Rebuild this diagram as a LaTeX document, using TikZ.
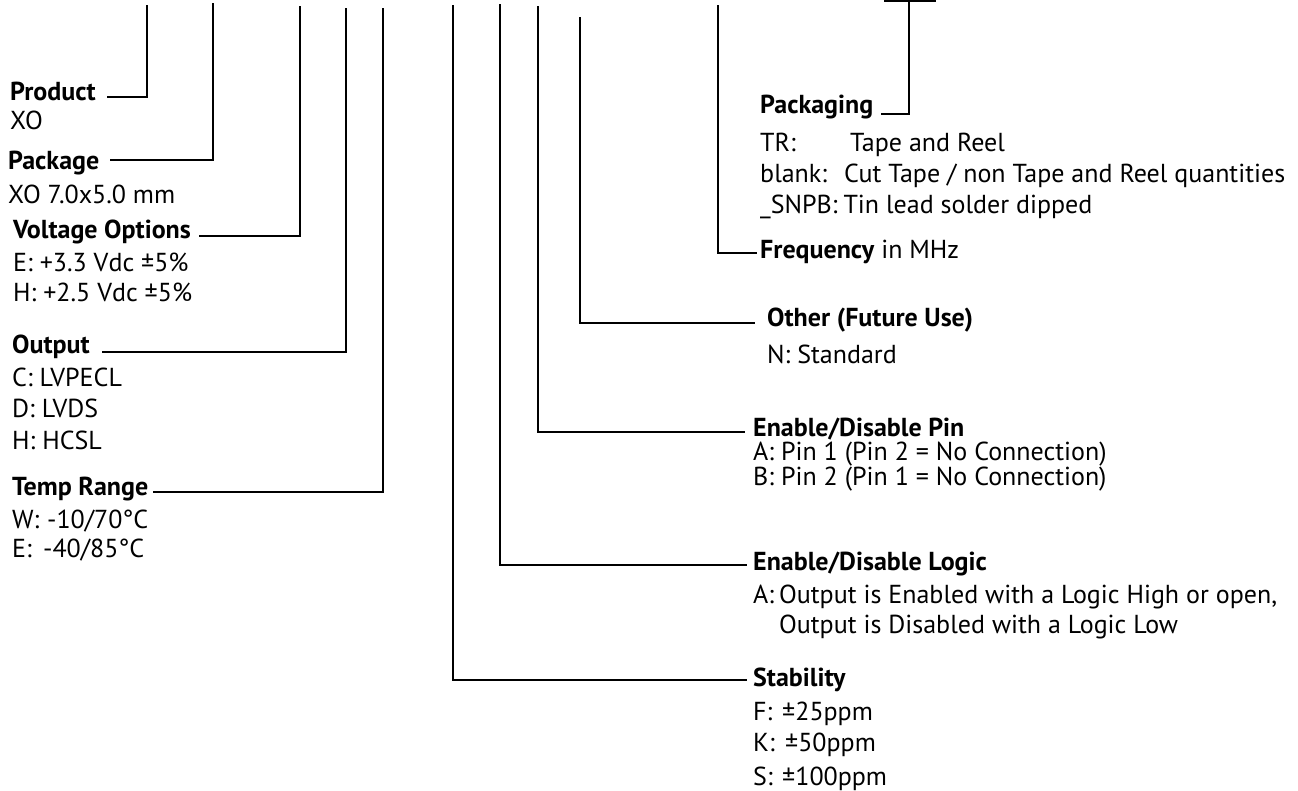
\documentclass[tikz,border=0pt]{standalone}
\usepackage{fontspec}
\setmainfont{PT Sans}
\usetikzlibrary{calc}
\tikzset{
  txt/.style={anchor=base west, inner sep=0pt, font=\fontsize{26}{30}\selectfont},
  head/.style={anchor=base west, inner sep=0pt, font=\fontsize{26}{30}\selectfont\bfseries},
  lead/.style={line width=2.2pt, line cap=butt, line join=miter, draw=black},
}
\begin{document}
\begin{tikzpicture}[x=1pt,y=-1pt]
\useasboundingbox (0,0) rectangle (1298,790);
% ---------- left column ----------
\node[head] (prod) at (10,100) {Product};
\node[txt]  (prodA) at (10,129) {XO};
\node[head] (pack) at (8,169) {Package};
\node[txt]  (packA) at (8,203) {XO 7.0x5.0 mm};
\node[head] (volt) at (13,238) {Voltage Options};
\node[txt]  (voltE) at (13,271) {E: +3.3 Vdc ±5\%};
\node[txt]  (voltH) at (13,301) {H: +2.5 Vdc ±5\%};
\node[head] (outp) at (12,353) {Output};
\node[txt]  (outC) at (12,386) {C: LVPECL};
\node[txt]  (outD) at (12,417) {D: LVDS};
\node[txt]  (outH) at (12,449) {H: HCSL};
\node[head] (temp) at (12,495) {Temp Range};
\node[txt]  (tempW) at (12,528) {\makebox[35pt][l]{W:}-10/70°C};
\node[txt]  (tempE) at (12,557) {\makebox[31pt][l]{E:}-40/85°C};
% ---------- right column ----------
\node[head] (pkg) at (760,113) {Packaging};
\node[txt]  (pkgTR) at (760,151) {\makebox[90pt][l]{TR:}Tape and Reel};
\node[txt]  (pkgBL) at (760,182) {\makebox[84pt][l]{blank:}Cut Tape / non Tape and Reel quantities};
\node[txt]  (pkgSN) at (760,213) {\_SNPB:\hspace{6pt}Tin lead solder dipped};
\node[txt]  (freq) at (760,258) {\textbf{Frequency} in MHz};
\node[head] (oth) at (767,326) {Other (Future Use)};
\node[txt]  (othN) at (767,363) {N: Standard};
\node[head] (pin) at (753,436) {Enable/Disable Pin};
\node[txt]  (pinA) at (753,460) {A: Pin 1 (Pin 2 = No Connection)};
\node[txt]  (pinB) at (753,485) {B: Pin 2 (Pin 1 = No Connection)};
\node[head] (logic) at (753,570) {Enable/Disable Logic};
\node[txt]  (logA) at (753,603) {A:\hspace{5pt}Output is Enabled with a Logic High or open,};
\node[txt]  (logB) at (753,633) {\phantom{A:}\hspace{5pt}Output is Disabled with a Logic Low};
\node[head] (stab) at (753,686) {Stability};
\node[txt]  (stF) at (753,720) {\makebox[29pt][l]{F:}±25ppm};
\node[txt]  (stK) at (753,751) {\makebox[32pt][l]{K:}±50ppm};
\node[txt]  (stS) at (753,785) {\makebox[29pt][l]{S:}±100ppm};
% ---------- top ends of the leaders ----------
\coordinate (tProd) at (147,5);
\coordinate (tPack) at (213,3);
\coordinate (tVolt) at (300,6);
\coordinate (tOut)  at (346,8);
\coordinate (tTemp) at (383,8);
\coordinate (tStab) at (453,5);
\coordinate (tLog)  at (500,4);
\coordinate (tPin)  at (538,6);
\coordinate (tOth)  at (580,17);
\coordinate (tFreq) at (718,5);
\coordinate (tPkg)  at (909,0);
\coordinate (barL)  at (884,1);
\coordinate (barR)  at (936,1);
% ---------- leaders ----------
\draw[lead] (tProd) |- ($(prod.base east)+(11,-3)$);
\draw[lead] (tPack) |- ($(pack.base east)+(11,-9)$);
\draw[lead] (tVolt) |- ($(volt.base east)+(8,-2)$);
\draw[lead] (tOut)  |- ($(outp.base east)+(12,-1)$);
\draw[lead] (tTemp) |- ($(temp.base east)+(5,-3)$);
\draw[lead] (tStab) |- ($(stab.base west)+(-6,-6)$);
\draw[lead] (tLog)  |- ($(logic.base west)+(-6,-5)$);
\draw[lead] (tPin)  |- ($(pin.base west)+(-8,-4)$);
\draw[lead] (tOth)  |- ($(oth.base west)+(-12,-3)$);
\draw[lead] (tFreq) |- ($(freq.base west)+(-3,-5)$);
\draw[lead] (tPkg)  |- ($(pkg.base east)+(8,1)$);
\draw[lead] (barL) -- (barR);
\end{tikzpicture}
\end{document}
